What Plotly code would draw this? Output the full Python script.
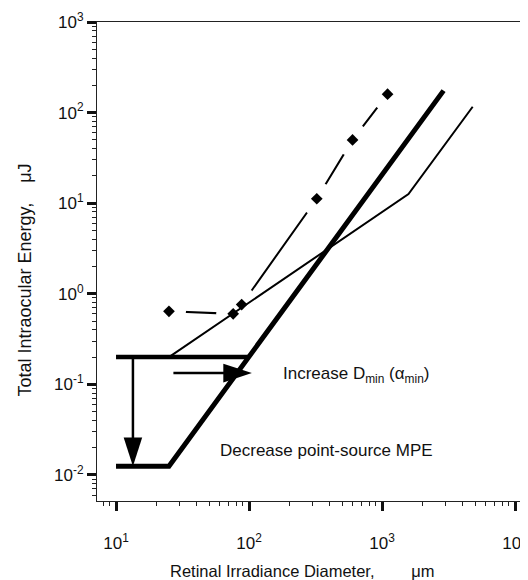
import plotly.graph_objects as go

# ---- data ----
# thick curve: decreased point-source MPE
thick_x = [10, 25, 2900]
thick_y = [0.0125, 0.0125, 175]
# original point-source level (thick horizontal)
orig_x = [10, 100]
orig_y = [0.2, 0.2]
# thin curve
thin_x = [25, 1580, 4800]
thin_y = [0.2, 12.6, 116]
# dash-dot curve with diamonds
dm_x = [25, 76, 88, 323, 600, 1100]
dm_y = [0.64, 0.60, 0.76, 11.2, 50, 160]
# arrows
arr_v_x = [13.4, 13.4]
arr_v_y = [0.2, 0.0125]
arr_h_x = [27, 105]
arr_h_y = [0.133, 0.133]

xtick_vals = [10, 100, 1000, 10000]
xtick_text = ["10<sup>1</sup>", "10<sup>2</sup>", "10<sup>3</sup>", "10<sup>4</sup>"]
ytick_vals = [0.01, 0.1, 1, 10, 100, 1000]
ytick_text = ["10<sup>-2</sup>", "10<sup>-1</sup>", "10<sup>0</sup>",
              "10<sup>1</sup>", "10<sup>2</sup>", "10<sup>3</sup>"]

FONT = "Liberation Sans, Arial, sans-serif"
INK = "#000000"
TXT = "#111111"
SP = "\u00a0"

fig = go.Figure()

# dashed curve: line with white halos around the diamond positions
fig.add_trace(go.Scatter(x=dm_x, y=dm_y, mode="lines+markers",
                         line=dict(color=INK, width=2),
                         marker=dict(symbol="circle", size=34, color="white",
                                     line=dict(width=0)),
                         hoverinfo="skip"))
# thin curve
fig.add_trace(go.Scatter(x=thin_x, y=thin_y, mode="lines",
                         line=dict(color=INK, width=2)))
# thick curves
fig.add_trace(go.Scatter(x=thick_x, y=thick_y, mode="lines",
                         line=dict(color=INK, width=5)))
fig.add_trace(go.Scatter(x=orig_x, y=orig_y, mode="lines",
                         line=dict(color=INK, width=4.5)))
# diamonds
fig.add_trace(go.Scatter(x=dm_x, y=dm_y, mode="markers",
                         marker=dict(symbol="diamond", size=9, color=INK,
                                     line=dict(width=0))))
# arrows
for ax_, ay_ in [(arr_v_x, arr_v_y), (arr_h_x, arr_h_y)]:
    fig.add_trace(go.Scatter(x=ax_, y=ay_, mode="lines+markers",
                             line=dict(color=INK, width=2.5),
                             marker=dict(symbol="arrow", size=[0, 30],
                                         opacity=[0, 1], angleref="previous",
                                         color=INK, line=dict(width=0))))

axis_common = dict(type="log", tickmode="array",
                   showline=True, linecolor="#222", linewidth=1, mirror=True,
                   ticks="outside", ticklen=9, tickwidth=2.5, tickcolor="#111",
                   showgrid=False, zeroline=False, automargin=False,
                   ticklabeloverflow="allow",
                   tickfont=dict(family=FONT, size=17, color=TXT),
                   minor=dict(ticks="outside", ticklen=4, tickwidth=1,
                              tickcolor="#222", dtick="D1", showgrid=False))

# the page body adds an 8px offset; figure sized so the plot lands in place
fig.update_layout(
    width=520, height=572,
    margin=dict(l=89, r=8, t=14, b=79),
    plot_bgcolor="white", paper_bgcolor="white",
    showlegend=False,
    font=dict(family=FONT, size=16, color=TXT),
    xaxis=dict(range=[0.857, 4.037], tickvals=xtick_vals, ticktext=xtick_text,
               ticklabelstandoff=18, **axis_common),
    yaxis=dict(range=[-2.288, 3.0005], tickvals=ytick_vals, ticktext=ytick_text,
               **axis_common),
    annotations=[
        dict(text="Increase D<sub>min</sub> (\u03b1<sub>min</sub>)",
             xref="paper", yref="paper", x=(281 - 97) / 423, y=(500 - 374) / 478,
             xanchor="left", yanchor="middle", showarrow=False,
             font=dict(family=FONT, size=17, color=TXT)),
        dict(text="Decrease point-source MPE",
             xref="paper", yref="paper", x=(218 - 97) / 423, y=(500 - 450) / 478,
             xanchor="left", yanchor="middle", showarrow=False,
             font=dict(family=FONT, size=17, color=TXT)),
        dict(text="Retinal Irradiance Diameter," + SP * 8 + "\u03bcm",
             xref="paper", yref="paper", x=(302 - 97) / 423, y=(500 - 570) / 478,
             xanchor="center", yanchor="middle", showarrow=False,
             font=dict(family=FONT, size=16.5, color=TXT)),
        dict(text="Total Intraocular Energy," + SP * 4 + "\u03bcJ",
             xref="paper", yref="paper", x=(25 - 97) / 423, y=(500 - 280) / 478,
             xanchor="center", yanchor="middle", showarrow=False, textangle=-90,
             font=dict(family=FONT, size=18, color=TXT)),
    ],
)

fig.write_html("out.html")
